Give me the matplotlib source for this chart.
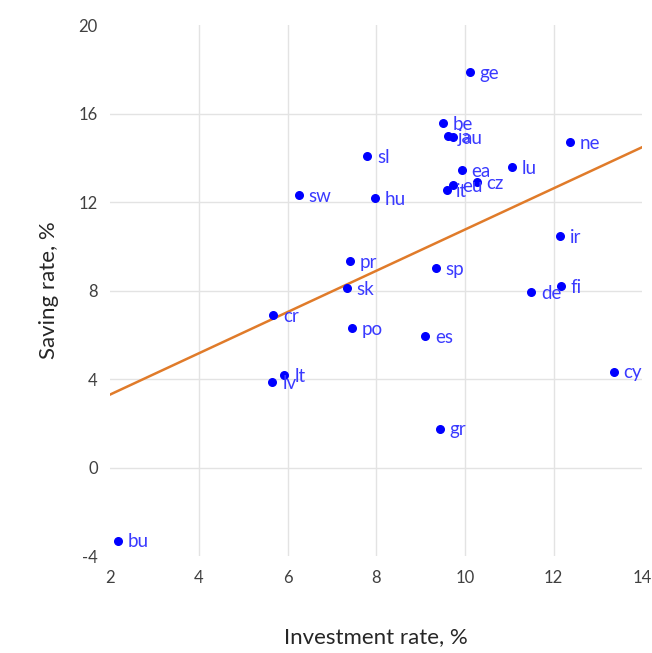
import numpy as np
import matplotlib.pyplot as plt

plt.rcParams['font.family'] = ['Lato', 'DejaVu Sans']
plt.rcParams['axes.unicode_minus'] = False

countries = ['ge', 'be', 'ja', 'au', 'sl', 'ne', 'ea', 'lu', 'cz', 'eu', 'it',
             'sw', 'hu', 'ir', 'pr', 'sp', 'sk', 'fi', 'de', 'cr', 'po', 'es',
             'lt', 'lv', 'cy', 'gr', 'bu']
investment = [10.11, 9.50, 9.62, 9.73, 7.80, 12.36, 9.93, 11.07, 10.27, 9.73, 9.59,
              6.25, 7.98, 12.14, 7.41, 9.34, 7.34, 12.16, 11.50, 5.68, 7.45, 9.11,
              5.93, 5.66, 13.36, 9.43, 2.18]
saving = [17.87, 15.57, 14.97, 14.93, 14.07, 14.70, 13.44, 13.57, 12.90, 12.76, 12.53,
          12.30, 12.17, 10.45, 9.32, 9.00, 8.10, 8.19, 7.92, 6.88, 6.29, 5.93,
          4.16, 3.85, 4.34, 1.76, -3.30]

# trend line (Excel linear trendline)
trend_x = [2, 14]
trend_y = [3.30, 14.48]

fig = plt.figure(figsize=(6.52, 6.53), dpi=100)
ax = fig.add_axes([0.169, 0.1485, 0.816, 0.8132])

ax.plot(trend_x, trend_y, color='#E07B2A', lw=1.8, zorder=2)
ax.scatter(investment, saving, s=30, color='#0000FF', zorder=3)
for name, x, y in zip(countries, investment, saving):
    ax.annotate(name, (x, y), xytext=(7, -1), textcoords='offset points',
                va='center', ha='left', fontsize=13.5, color='#3A3AFF', zorder=4)

ax.set_xlim(2, 14)
ax.set_ylim(-4, 20)
ax.set_xticks(range(2, 15, 2))
ax.set_yticks(range(-4, 21, 4))
for v in range(4, 13, 2):
    ax.axvline(v, color='#E3E3E3', lw=1, zorder=0)
for v in range(0, 17, 4):
    ax.axhline(v, color='#E3E3E3', lw=1, zorder=0)
for s in ax.spines.values():
    s.set_visible(False)
ax.tick_params(length=0, labelsize=12, labelcolor='#404040')
ax.tick_params(axis='y', pad=9)
ax.tick_params(axis='x', pad=10)

ax.set_xlabel('Investment rate, %', fontsize=16, color='#262626', labelpad=30)
ax.set_ylabel('Saving rate, %', fontsize=16, color='#262626', labelpad=14)

fig.savefig('out.png', dpi=100)
